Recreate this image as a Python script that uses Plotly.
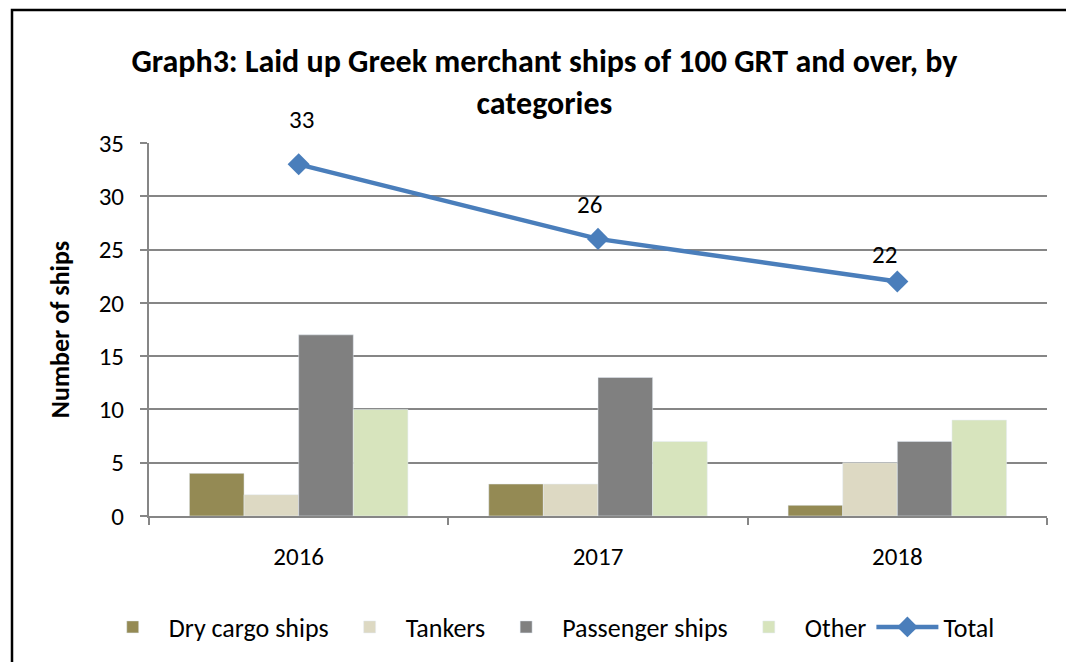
import plotly.graph_objects as go

years = ["2016", "2017", "2018"]
dry_cargo = [4, 3, 1]
tankers = [2, 3, 5]
passenger = [17, 13, 7]
other = [10, 7, 9]
total = [33, 26, 22]

FONT = "Carlito, Calibri, 'Liberation Sans Narrow', 'Liberation Sans', sans-serif"
W, H = 1074, 662

fig = go.Figure()
fig.add_bar(x=years, y=dry_cargo, name="Dry cargo ships", marker_color="#948A54")
fig.add_bar(x=years, y=tankers, name="Tankers", marker_color="#DDD9C3")
fig.add_bar(x=years, y=passenger, name="Passenger ships", marker_color="#808080")
fig.add_bar(x=years, y=other, name="Other", marker_color="#D7E4BD")
fig.add_scatter(x=years, y=total, name="Total", mode="lines+markers",
                line=dict(color="#4A7EBB", width=4.5),
                marker=dict(symbol="diamond", size=17, color="#4A7EBB"))

# data labels for the Total series (placement offsets as in the original)
label_yshift = [45, 34, 27]
label_xshift = [3, -9, -13]
for i, (v, dy, dx) in enumerate(zip(total, label_yshift, label_xshift)):
    fig.add_annotation(x=i, y=v, xref="x", yref="y", text=str(v), showarrow=False,
                       yshift=dy, xshift=dx, font=dict(size=25, family=FONT, color="#000000"))

fig.update_layout(
    width=W, height=H,
    margin=dict(l=141, r=35, t=135, b=154),
    paper_bgcolor="white", plot_bgcolor="white",
    font=dict(family=FONT, size=25, color="#000000"),
    barmode="group", bargap=0.27, bargroupgap=0,
    title=dict(text="<b>Graph3: Laid up Greek merchant ships of 100 GRT and over, by<br>categories</b>",
               x=0.4995, xanchor="center", y=1 - 64 / H, yanchor="middle",
               font=dict(size=32, family=FONT)),
    legend=dict(orientation="h", xref="container", yref="container",
                x=0.503, xanchor="center", y=1 - 619 / H, yanchor="middle",
                font=dict(size=26), itemwidth=62, traceorder="normal"),
    showlegend=True,
)
fig.update_xaxes(type="category", showline=True, linecolor="#868686", linewidth=2,
                 ticks="outside", tickson="boundaries", ticklen=7, tickcolor="#868686", tickwidth=2,
                 tickfont=dict(size=25), showgrid=False, ticklabelstandoff=17, tickangle=0)
fig.update_yaxes(range=[0, 35], dtick=5, showline=True, linecolor="#868686", linewidth=2,
                 ticks="outside", ticklen=7, tickcolor="#868686", tickwidth=2,
                 showgrid=True, gridcolor="#868686", gridwidth=1.5, zeroline=False,
                 tickfont=dict(size=25), ticklabelstandoff=11,
                 title=dict(text="<b>Number of ships</b>", font=dict(size=26), standoff=22))

# outer chart frame (left and top edges visible in the original)
fx0 = -137 / 898
fy1 = (516 - 10) / 373
fig.add_shape(type="path", xref="paper", yref="paper",
              path=f"M {fx0},-0.6 L {fx0},{fy1} L 1.3,{fy1}",
              line=dict(color="#000000", width=2.5), layer="below")
fig.write_html("out.html")
